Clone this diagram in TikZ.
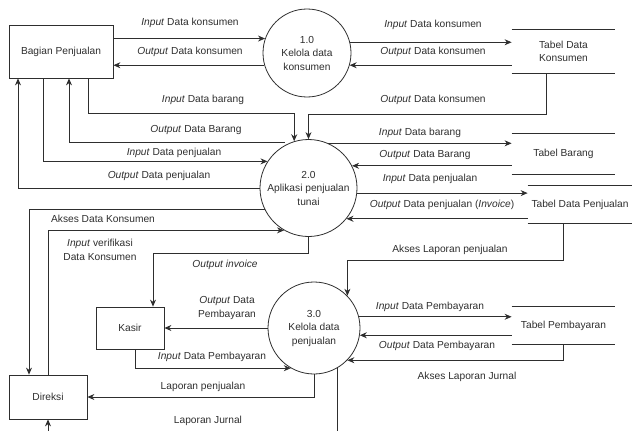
\documentclass[tikz,border=0pt]{standalone}
\usepackage{fontspec}
\setmainfont{Liberation Sans}
\usetikzlibrary{arrows.meta}

\begin{document}
\begin{tikzpicture}[x=1pt,y=-1pt,color=black!82,line width=0.8pt,
    font=\fontsize{10.2}{13.5}\selectfont,
    entity/.style={draw,inner sep=0pt},
    proc/.style={draw,circle,inner sep=0pt,align=center},
    store/.style={minimum width=103pt,inner sep=0pt,align=center},
    flow/.style={-{Stealth[length=7pt,width=6pt]}},
    lbl/.style={inner sep=0pt,align=center}]
  \clip (0,0) rectangle (632,431);
  \node[entity,minimum width=104pt,minimum height=53pt] (bp) at (61,51.5) {Bagian Penjualan};
  \node[entity,minimum width=68pt,minimum height=42pt] (kasir) at (130,328) {Kasir};
  \node[entity,minimum width=78pt,minimum height=44pt] (dir) at (48,397) {Direksi};
  \node[proc,minimum size=88pt] (c1) at (307,53) {1.0\\Kelola data\\konsumen};
  \node[proc,minimum size=97pt] (c2) at (308.5,188) {2.0\\Aplikasi penjualan\\tunai};
  \node[proc,minimum size=92pt] (c3) at (314,328) {3.0\\Kelola data\\penjualan};
  \node[store,minimum height=43pt] (tdk) at (563.5,51.5) {Tabel Data\\Konsumen};
  \node[store,minimum height=40pt] (tb) at (563.5,154) {Tabel Barang};
  \node[store,minimum width=104pt,minimum height=37pt] (tdp) at (580,204.5) {Tabel Data Penjualan};
  \node[store,minimum height=37pt] (tp) at (563.5,325.5) {Tabel Pembayaran};
  \foreach \t in {tdk,tb,tdp,tp}
    \draw (\t.north west) -- (\t.north east) (\t.south west) -- (\t.south east);

  \draw[flow] (c1.161 -| bp.east) -- (c1.161);
  \draw[flow] (c1.196) -- (c1.196 -| bp.east);
  \draw[flow] (c1.14) -- (c1.14 -| tdk.west);
  \draw[flow] (c1.344 -| tdk.west) -- (c1.344);
  \draw[flow] ([xshift=-17pt]tdk.south) |- ([yshift=25pt]c2.north) -- (c2.north);

  \draw[flow] ([xshift=27pt]bp.south) |- ([yshift=28pt]c2.107) -- (c2.107);
  \draw[flow] ([xshift=-7pt]c2.110) -| ([xshift=8pt]bp.south);
  \draw[flow] ([xshift=-18pt]bp.south) |- (c2.147);
  \draw[flow] (c2.west) -| ([xshift=-43pt]bp.south);
  \draw[flow] (c2.206) -| ([xshift=-19pt]dir.north);
  \draw[flow] (dir.north) |- (c2.240);
  \draw[flow] (c2.south) -- ++(0,16) -| ([xshift=23pt]kasir.north);

  \draw[flow] (c2.66) -- (c2.66 -| tb.west);
  \draw[flow] (c2.27 -| tb.west) -- (c2.27);
  \draw[flow] (c2.354) -- (c2.354 -| tdp.west);
  \draw[flow] (c2.321 -| tdp.west) -- (c2.321);
  \draw[flow] ([xshift=-17pt]tdp.south) |- ([yshift=35pt]c3.44) -- (c3.44);

  \draw[flow] (c3.west) -- (kasir.east);
  \draw[flow] ([xshift=5pt]kasir.south) |- (c3.240);
  \draw[flow] (c3.south) |- (dir.east);
  \draw[flow] (c3.300) -- ++(0,75) -| (dir.south);
  \draw[flow] (c3.14) -- (c3.14 -| tp.west);
  \draw[flow] (c3.351 -| tp.west) -- (c3.351);
  \draw[flow] (tp.south) |- (c3.316);

  \node[lbl] (l1) at (190,23) {\textit{Input} Data konsumen};
  \node[lbl] (l2) at (190,52) {\textit{Output} Data konsumen};
  \node[lbl] (l3) at (433,25) {\textit{Input} Data konsumen};
  \node[lbl] (l4) at (433,52) {\textit{Output} Data konsumen};
  \node[lbl] (l5) at (433,100) {\textit{Output} Data konsumen};
  \node[lbl] (l6) at (203,100) {\textit{Input} Data barang};
  \node[lbl] (l7) at (196,130) {\textit{Output} Data Barang};
  \node[lbl] (l8) at (174,153) {\textit{Input} Data penjualan};
  \node[lbl] (l9) at (159,176) {\textit{Output} Data penjualan};
  \node[lbl] (l10) at (420,133) {\textit{Input} Data barang};
  \node[lbl] (l11) at (425,155) {\textit{Output} Data Barang};
  \node[lbl] (l12) at (430,179) {\textit{Input} Data penjualan};
  \node[lbl] (l13) at (442,205) {\textit{Output} Data penjualan (\textit{Invoice})};
  \node[lbl] (l14) at (103,219) {Akses Data Konsumen};
  \node[lbl] (l15) at (100,250) {\textit{Input} verifikasi\\Data Konsumen};
  \node[lbl] (l16) at (225,265) {\textit{Output invoice}};
  \node[lbl] (l17) at (227,308) {\textit{Output} Data\\Pembayaran};
  \node[lbl] (l18) at (212,357) {\textit{Input} Data Pembayaran};
  \node[lbl] (l19) at (203,387) {Laporan penjualan};
  \node[lbl] (l20) at (208,421) {Laporan Jurnal};
  \node[lbl] (l21) at (450,250) {Akses Laporan penjualan};
  \node[lbl] (l22) at (430,307) {\textit{Input} Data Pembayaran};
  \node[lbl] (l23) at (437,346) {\textit{Output} Data Pembayaran};
  \node[lbl] (l24) at (467,377) {Akses Laporan Jurnal};
\end{tikzpicture}
\end{document}
